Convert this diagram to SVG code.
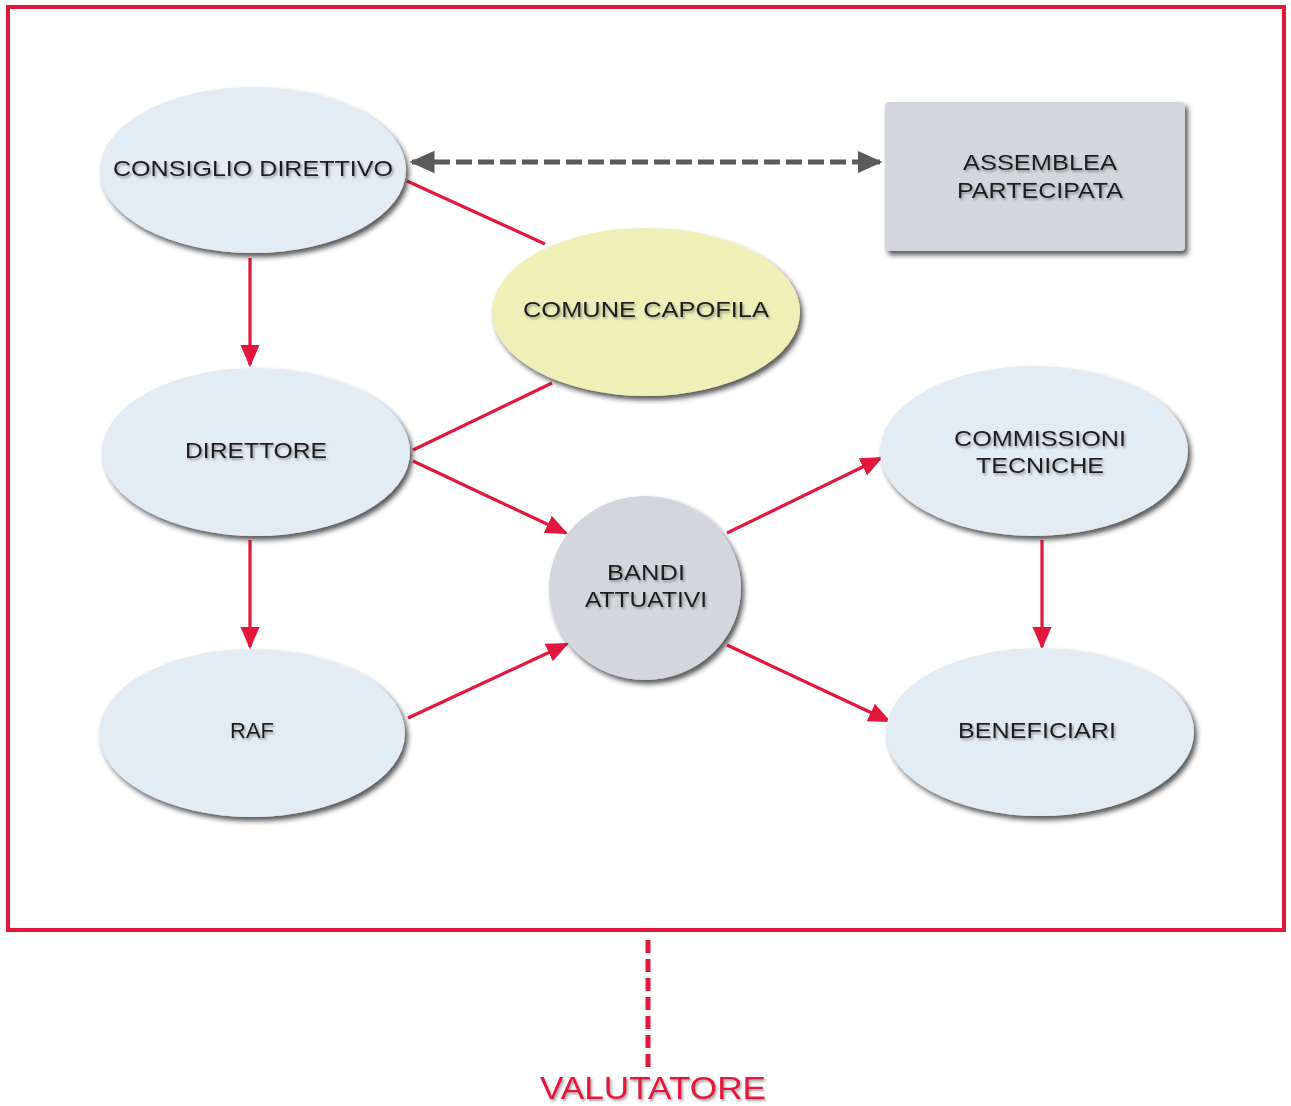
<svg xmlns="http://www.w3.org/2000/svg" width="1291" height="1106" viewBox="0 0 1291 1106">
<defs>
<filter id="sh" x="-20%" y="-20%" width="140%" height="150%">
<feDropShadow dx="3" dy="4" stdDeviation="2.5" flood-color="#222" flood-opacity="0.75"/>
</filter>
<filter id="tsh" x="-10%" y="-30%" width="120%" height="160%">
<feDropShadow dx="1.5" dy="2" stdDeviation="1" flood-color="#666" flood-opacity="0.6"/>
</filter>
<marker id="ra" viewBox="0 0 10 10" preserveAspectRatio="none" refX="9" refY="5" markerWidth="7" markerHeight="6" markerUnits="strokeWidth" orient="auto">
<path d="M0,0 L10,5 L0,10 Z" fill="#e3163e"/>
</marker>
<marker id="ga" viewBox="0 0 10 10" preserveAspectRatio="none" refX="9" refY="5" markerWidth="5" markerHeight="4.5" markerUnits="strokeWidth" orient="auto-start-reverse">
<path d="M0,0 L10,5 L0,10 Z" fill="#5a5a5a"/>
</marker>
</defs>
<style>
.ell{fill:#e2ecf5;filter:url(#sh)}
.t{font-family:"Liberation Sans",Arial,sans-serif;font-size:22px;fill:#1a1a1a;text-anchor:middle;filter:url(#tsh)}
.r{stroke:#e3163e;stroke-width:3.2;fill:none}
</style>
<rect x="8" y="7" width="1276" height="923" fill="none" stroke="#e3163e" stroke-width="4"/>
<g id="connectors">
<line x1="412" y1="162" x2="880" y2="162" stroke="#5a5a5a" stroke-width="5" stroke-dasharray="16 6" marker-start="url(#ga)" marker-end="url(#ga)"/>
<line class="r" x1="407" y1="181" x2="545" y2="244"/>
<line class="r" x1="413" y1="450" x2="552" y2="383"/>
<line class="r" x1="250" y1="258" x2="250" y2="365" marker-end="url(#ra)"/>
<line class="r" x1="250" y1="540" x2="250" y2="647" marker-end="url(#ra)"/>
<line class="r" x1="413" y1="461" x2="566" y2="533" marker-end="url(#ra)"/>
<line class="r" x1="408" y1="718" x2="567" y2="644" marker-end="url(#ra)"/>
<line class="r" x1="727" y1="533" x2="881" y2="458" marker-end="url(#ra)"/>
<line class="r" x1="727" y1="645" x2="889" y2="721" marker-end="url(#ra)"/>
<line class="r" x1="1042" y1="540" x2="1042" y2="647" marker-end="url(#ra)"/>
<line x1="648" y1="940" x2="648" y2="1068" stroke="#e3163e" stroke-width="5" stroke-dasharray="13 6"/>
</g>
<g id="consiglio">
<ellipse class="ell" cx="253" cy="170" rx="153" ry="83"/>
<text class="t" x="253" y="176" textLength="280" lengthAdjust="spacingAndGlyphs">CONSIGLIO DIRETTIVO</text>
</g>
<g id="assemblea">
<rect x="885" y="102" width="300" height="149" rx="4" fill="#d3d6dd" filter="url(#sh)"/>
<text class="t" x="1040" y="170" textLength="154" lengthAdjust="spacingAndGlyphs">ASSEMBLEA</text>
<text class="t" x="1040" y="198" textLength="166" lengthAdjust="spacingAndGlyphs">PARTECIPATA</text>
</g>
<g id="comune">
<ellipse cx="646" cy="312" rx="154" ry="84" fill="#eef0b8" filter="url(#sh)"/>
<text class="t" x="646" y="317" textLength="246" lengthAdjust="spacingAndGlyphs">COMUNE CAPOFILA</text>
</g>
<g id="direttore">
<ellipse class="ell" cx="256" cy="452" rx="154" ry="84"/>
<text class="t" x="256" y="458" textLength="142" lengthAdjust="spacingAndGlyphs">DIRETTORE</text>
</g>
<g id="raf">
<ellipse class="ell" cx="252" cy="733" rx="153" ry="84"/>
<text class="t" x="252" y="738">RAF</text>
</g>
<g id="bandi">
<ellipse cx="645" cy="588" rx="96" ry="92" fill="#d3d6dc" filter="url(#sh)"/>
<text class="t" x="646" y="580" textLength="78" lengthAdjust="spacingAndGlyphs">BANDI</text>
<text class="t" x="646" y="607" textLength="122" lengthAdjust="spacingAndGlyphs">ATTUATIVI</text>
</g>
<g id="commissioni">
<ellipse class="ell" cx="1034" cy="451" rx="154" ry="85"/>
<text class="t" x="1040" y="446" textLength="172" lengthAdjust="spacingAndGlyphs">COMMISSIONI</text>
<text class="t" x="1040" y="473" textLength="128" lengthAdjust="spacingAndGlyphs">TECNICHE</text>
</g>
<g id="beneficiari">
<ellipse class="ell" cx="1040" cy="732" rx="154" ry="84"/>
<text class="t" x="1037" y="738" textLength="158" lengthAdjust="spacingAndGlyphs">BENEFICIARI</text>
</g>
<g id="valutatore">
<text x="653" y="1099" font-family="Liberation Sans,Arial,sans-serif" font-size="31" fill="#e3163e" text-anchor="middle" textLength="226" lengthAdjust="spacingAndGlyphs" filter="url(#tsh)">VALUTATORE</text>
</g>
</svg>
